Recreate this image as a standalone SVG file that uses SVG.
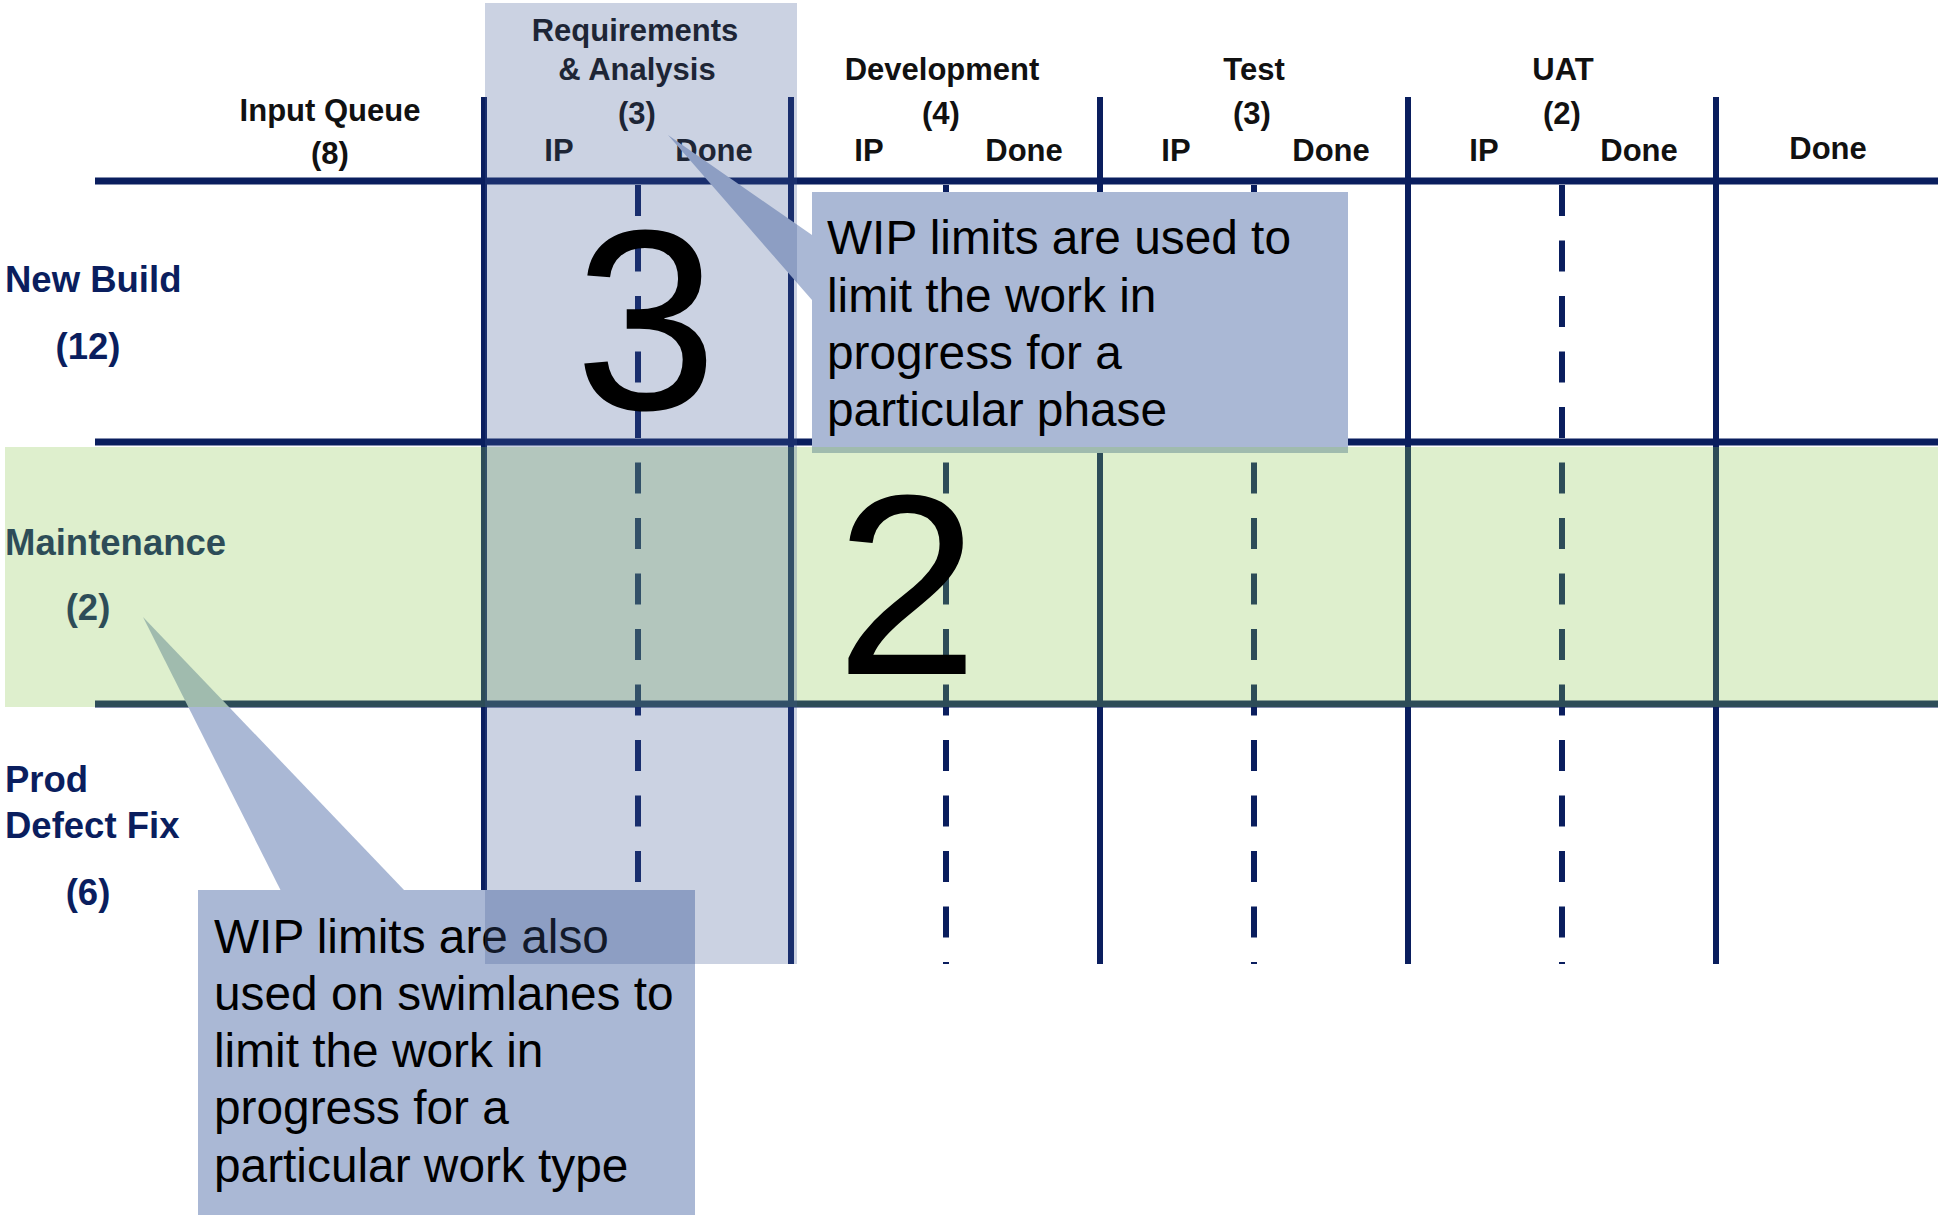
<svg xmlns="http://www.w3.org/2000/svg" width="1942" height="1215" viewBox="0 0 1942 1215">
<style>
.hd{font-family:"Liberation Sans",Arial,sans-serif;font-weight:bold;font-size:31px;fill:#111;text-anchor:middle}
.rl{font-family:"Liberation Sans",Arial,sans-serif;font-weight:bold;font-size:36.5px;fill:#0A1E5E}
.big{font-family:"Liberation Sans",Arial,sans-serif;font-size:257px;fill:#000;text-anchor:middle}
.co{font-family:"Liberation Sans",Arial,sans-serif;font-size:47.8px;fill:#000}
.sol{stroke:#0A1E5E;stroke-width:6;fill:none}
.hor{stroke:#0A1E5E;stroke-width:7;fill:none}
.dsh{stroke:#0A1E5E;stroke-width:6;fill:none;stroke-dasharray:31 24.5}
.box{fill:#AAB8D5}
</style>
<rect x="0" y="0" width="1942" height="1215" fill="#FFFFFF"/>
<g id="grid">
<line class="hor" x1="95" y1="181" x2="1938" y2="181"/>
<line class="hor" x1="95" y1="442" x2="1938" y2="442"/>
<line class="hor" x1="95" y1="704" x2="1938" y2="704"/>
<line class="sol" x1="484" y1="97" x2="484" y2="964"/>
<line class="sol" x1="791" y1="97" x2="791" y2="964"/>
<line class="sol" x1="1100" y1="97" x2="1100" y2="964"/>
<line class="sol" x1="1408" y1="97" x2="1408" y2="964"/>
<line class="sol" x1="1716" y1="97" x2="1716" y2="964"/>
<line class="dsh" x1="638" y1="185" x2="638" y2="964"/>
<line class="dsh" x1="946" y1="185" x2="946" y2="964"/>
<line class="dsh" x1="1254" y1="185" x2="1254" y2="964"/>
<line class="dsh" x1="1562" y1="185" x2="1562" y2="964"/>
</g>
<g id="col-input-queue">
<text class="hd" x="330" y="121">Input Queue</text>
<text class="hd" x="330" y="164">(8)</text>
</g>
<g id="col-requirements">
<text class="hd" x="635" y="41">Requirements</text>
<text class="hd" x="637" y="80">&amp; Analysis</text>
<text class="hd" x="637" y="124">(3)</text>
<text class="hd" x="559" y="161">IP</text>
<text class="hd" x="714" y="161">Done</text>
</g>
<g id="col-development">
<text class="hd" x="942" y="80">Development</text>
<text class="hd" x="941" y="124">(4)</text>
<text class="hd" x="869" y="161">IP</text>
<text class="hd" x="1024" y="161">Done</text>
</g>
<g id="col-test">
<text class="hd" x="1254" y="80">Test</text>
<text class="hd" x="1252" y="124">(3)</text>
<text class="hd" x="1176" y="161">IP</text>
<text class="hd" x="1331" y="161">Done</text>
</g>
<g id="col-uat">
<text class="hd" x="1563" y="80">UAT</text>
<text class="hd" x="1562" y="124">(2)</text>
<text class="hd" x="1484" y="161">IP</text>
<text class="hd" x="1639" y="161">Done</text>
</g>
<g id="col-done">
<text class="hd" x="1828" y="159">Done</text>
</g>
<g id="lane-new-build">
<text class="rl" x="5" y="292">New Build</text>
<text class="rl" x="88" y="359" text-anchor="middle">(12)</text>
</g>
<g id="lane-maintenance">
<text class="rl" x="5" y="555">Maintenance</text>
<text class="rl" x="88" y="620" text-anchor="middle">(2)</text>
</g>
<g id="lane-prod-defect">
<text class="rl" x="5" y="792">Prod</text>
<text class="rl" x="5" y="838">Defect Fix</text>
<text class="rl" x="88" y="905" text-anchor="middle">(6)</text>
</g>
<g id="callout-phase">
<polygon class="box" points="668,135 812,235 812,300"/>
<rect class="box" x="812" y="192" width="536" height="261"/>
<text class="co" x="827" y="254">WIP limits are used to</text>
<text class="co" x="827" y="312">limit the work in</text>
<text class="co" x="827" y="369">progress for a</text>
<text class="co" x="827" y="426">particular phase</text>
</g>
<g id="callout-swimlane">
<polygon class="box" points="143,617 281,891 405,891"/>
<rect class="box" x="198" y="890" width="497" height="325"/>
<text class="co" x="214" y="953">WIP limits are also</text>
<text class="co" x="214" y="1010">used on swimlanes to</text>
<text class="co" x="214" y="1067">limit the work in</text>
<text class="co" x="214" y="1124">progress for a</text>
<text class="co" x="214" y="1182">particular work type</text>
</g>
<g id="maintenance-highlight">
<rect x="5" y="447" width="1933" height="260" fill="#89C64C" fill-opacity="0.28"/>
</g>
<g id="requirements-highlight">
<rect x="485" y="3" width="312" height="961" fill="#415B95" fill-opacity="0.275"/>
</g>
<g id="wip-digits">
<text class="big" x="646" y="409">3</text>
<text class="big" x="907" y="674">2</text>
</g>
</svg>
